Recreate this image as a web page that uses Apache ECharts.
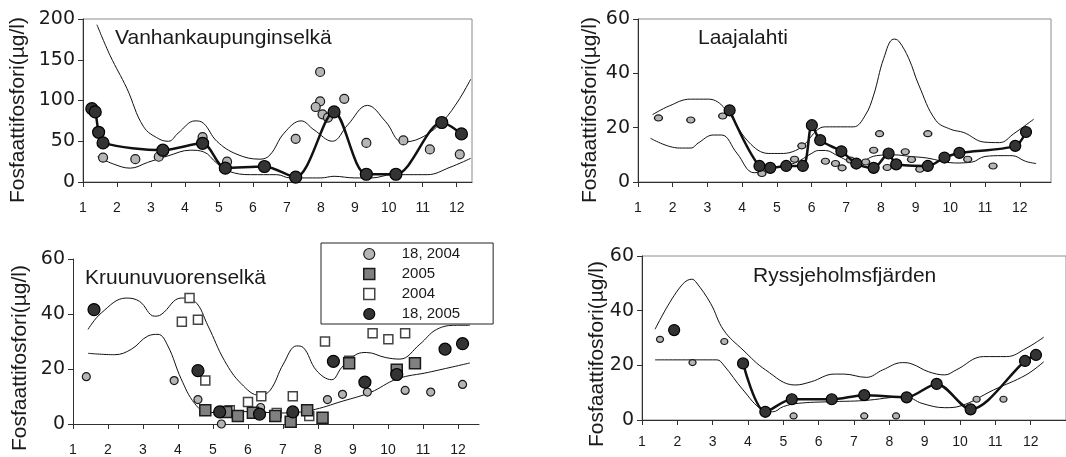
<!DOCTYPE html>
<html>
<head>
<meta charset="utf-8">
<script src="https://cdn.jsdelivr.net/npm/echarts@6/dist/echarts.min.js"></script>
<style>
html,body{margin:0;padding:0;background:#fff;}
#chart{width:1066px;height:457px;}
</style>
</head>
<body>
<div id="chart"></div>
<script>
// ---------- tick labels ----------
const monthTicks = [1,2,3,4,5,6,7,8,9,10,11,12];
const panelNames = ['Vanhankaupunginselkä','Laajalahti','Kruunuvuorenselkä','Ryssjeholmsfjärden'];
const yTitle = 'Fosfaattifosfori(µg/l)';
const legendNames = ['18, 2004','2005','2004','18, 2005'];

// ---------- Panel 1: Vanhankaupunginselkä ----------
const p1Dark2005 = [[1.26,90],[1.36,86],[1.46,61],[1.59,48],[3.35,39],[4.52,47.5],[5.19,17],[6.34,19],[7.26,6],[8.39,86],[9.34,9.5],[10.21,9.5],[11.56,73],[12.14,59]];
const p1Grey2004 = [[1.59,30],[2.54,28],[3.23,31],[4.52,55],[5.24,25],[7.26,53],[7.98,135],[7.98,99],[7.85,92],[8.05,83],[8.21,79],[8.69,102],[9.34,48],[10.43,51],[11.21,40],[12.09,34]];
const p1Upper = [[1.41,193],[1.8,155],[2.29,115],[2.78,68],[3.23,53],[3.52,50],[3.8,60],[4.3,75],[4.55,72],[4.94,50],[5.53,34],[6.21,28],[6.5,33],[6.92,60],[7.42,75],[7.8,64],[8.34,50],[8.79,70],[9.37,94],[9.91,74],[10.4,49],[10.94,54],[11.55,73],[12.02,98],[12.41,126]];
const p1Lower = [[1.43,31],[1.9,22],[2.39,17],[2.9,24],[3.5,32],[4.16,39],[4.55,37],[4.94,23],[5.3,13],[5.93,9],[6.7,9],[7.1,5],[8.0,5],[8.39,7],[9.0,5],[9.5,5],[10.1,9],[11.13,9],[11.8,18],[12.41,29]];

// ---------- Panel 2: Laajalahti ----------
const p2Dark2005 = [[3.64,26.4],[4.50,5.9],[4.81,5.2],[5.27,5.9],[5.75,5.9],[6.01,20.9],[6.25,15.4],[6.86,11.3],[7.29,6.8],[7.79,5.2],[8.22,10.5],[8.44,6.5],[9.35,5.9],[9.83,9.0],[10.26,10.7],[11.87,13.3],[12.18,18.4]];
const p2Grey2004 = [[1.59,23.6],[2.52,22.8],[3.44,24.3],[4.57,3.1],[5.51,8.4],[5.72,13.3],[6.40,7.6],[6.69,6.8],[6.88,5.2],[7.12,8.1],[7.56,7.4],[7.79,11.7],[7.96,17.8],[8.18,5.3],[8.70,11.1],[8.88,8.3],[9.12,4.7],[9.35,17.8],[10.50,8.4],[11.23,5.9]];
const p2Upper = [[1.42,24.8],[1.9,28],[2.51,30.5],[3.03,30.5],[3.51,27],[4.19,14.7],[4.77,10.5],[5.1,10.5],[5.44,11.1],[5.77,13.5],[6.16,19.1],[6.40,20.3],[6.83,20.3],[7.21,20.3],[7.55,24.6],[7.79,32],[8.08,45.5],[8.37,52.6],[8.51,51.9],[8.80,45.5],[9.09,35.7],[9.58,22.7],[10.01,19.4],[10.39,18.2],[10.97,14.7],[11.42,14.5],[11.83,17.8],[12.40,23.1]];
const p2Lower = [[1.36,16.1],[2.19,12.5],[2.53,12.5],[2.73,14.3],[3.17,17.3],[3.41,17.3],[3.85,10.6],[4.35,3.4],[4.93,5.2],[5.52,7.0],[6.01,10.6],[6.2,11.6],[6.4,11.6],[6.79,9.4],[7.28,7.0],[7.87,9.7],[8.36,10],[8.85,9.4],[9.34,8.8],[10.12,7.0],[10.61,7.3],[11.0,9.4],[11.49,9.7],[11.78,9.7],[12.17,7.6],[12.47,6.8]];

// ---------- Panel 3: Kruunuvuorenselkä ----------
const p3Dark2005 = [[1.60,41.6],[4.57,19.4],[5.19,4.4],[6.33,3.6],[7.28,4.4],[8.44,22.8],[9.34,15.2],[10.25,18.0],[11.63,27.2],[12.13,29.2]];
const p3Grey2004 = [[1.38,17.2],[3.89,15.8],[4.57,8.9],[5.24,0],[6.36,6.0],[8.27,8.9],[8.70,10.8],[9.41,11.6],[10.49,12.2],[11.22,11.6],[12.13,14.4]];
const p3Sq2005 = [[4.78,5.0],[5.38,4.4],[5.71,2.9],[6.14,4.1],[6.78,2.9],[7.22,0.8],[7.69,5.0],[8.13,2.3],[8.89,22.1],[10.25,19.7],[10.77,22.1]];
const p3Sq2004 = [[4.11,37.2],[4.33,45.8],[4.57,37.9],[4.78,15.8],[5.48,5.0],[6.0,8.0],[6.38,10.1],[6.82,4.0],[7.28,10.1],[7.75,2.9],[8.2,30.0],[8.89,23.0],[9.56,33.0],[10.01,30.8],[10.49,33.0]];
const p3Upper = [[1.43,34.4],[1.81,40.4],[2.52,45.8],[2.90,44.6],[3.33,39.2],[3.52,39.8],[4.09,45.8],[4.48,44.6],[4.86,35.6],[5.33,23.0],[5.81,14.6],[6.33,10.4],[6.63,12.2],[7.01,21.8],[7.39,28.4],[7.58,27.8],[7.96,19.4],[8.39,16.1],[8.68,20.6],[9.11,25.4],[9.39,26],[9.92,24.2],[10.34,23.6],[10.91,29],[11.39,34.4],[11.96,35.9],[12.34,35.9]];
const p3Lower = [[1.43,25.7],[2.19,25.2],[2.67,27.2],[3.14,32.0],[3.43,32.6],[3.71,28.4],[4.09,16.4],[4.48,7.4],[4.86,4.1],[5.3,4.5],[6.0,4.5],[7.0,4.0],[7.8,5.0],[8.7,8.3],[9.5,11.5],[10.26,16.4],[11.16,18.8],[12.34,22.2]];

// ---------- Panel 4: Ryssjeholmsfjärden ----------
const p4Dark2005 = [[1.91,32.9],[3.86,20.7],[4.49,3.0],[5.24,7.6],[6.37,7.6],[7.29,9.1],[8.49,8.3],[9.34,13.2],[10.30,3.9],[11.84,21.6],[12.15,23.8]];
const p4LineStart = 1;
const p4Grey2004 = [[1.51,29.5],[2.43,21.0],[3.33,28.7],[5.29,1.5],[7.29,1.5],[8.19,1.5],[10.47,7.6],[11.23,7.6]];
const p4Upper = [[1.37,33.2],[2.02,47.6],[2.41,51.5],[2.52,50.6],[2.94,42.7],[3.31,32.9],[3.86,25.6],[4.5,18.3],[5.33,12.8],[5.79,14.0],[6.44,16.8],[6.71,16.8],[7.35,15.6],[7.81,18.3],[8.37,21.0],[8.64,20.5],[9.10,17.7],[9.57,16.5],[9.89,18.3],[10.67,23.2],[11.32,23.2],[11.87,26.2],[12.37,30.3]];
const p4Lower = [[1.37,22.0],[3.12,22.0],[3.31,20.1],[3.86,11.0],[4.41,3.7],[4.7,3.0],[5.0,4.9],[5.42,6.1],[6.34,6.7],[7.26,7.1],[8.46,8.5],[8.92,6.1],[9.57,4.5],[10.03,5.2],[10.95,11.0],[11.87,16.5],[12.37,21.3]];

// ---------- styles ----------
const FONT = 'Liberation Sans, Arial, sans-serif';
const NUMFONT = 'DejaVu Sans, sans-serif';
const AXIS_COLOR = '#303030';
const TEXT_COLOR = '#1a1a1a';
const GREY_FILL = '#b5b5b5';
const DARK_FILL = '#333333';
const SQ_FILL = '#808080';

const chart = echarts.init(document.getElementById('chart'), null, {renderer:'canvas'});

const grids = [
  {left:83, top:19, width:389, height:163, show:true, borderColor:'#8c8c8c', borderWidth:1},
  {left:638, top:19, width:413, height:163, show:true, borderColor:'#8c8c8c', borderWidth:1},
  {left:73, top:259, width:406, height:167, show:false},
  {left:642, top:256, width:434, height:164, show:true, borderColor:'#8c8c8c', borderWidth:1}
];
const xMax = [12.45, 12.9, 12.6, 13];
const xMargin = [19, 19, 19, 15];
const yMax = [200, 60, 60, 60];
const yInterval = [50, 20, 20, 20];

const xAxes = grids.map((g,i)=>({
  type:'value', gridIndex:i, min:1, max:xMax[i], interval:1,
  axisLine:{show:true, onZero:false, lineStyle:{color:AXIS_COLOR, width:1}},
  axisTick:{show:true, length:5, customValues:monthTicks, lineStyle:{color:AXIS_COLOR}},
  axisLabel:{customValues:monthTicks, margin:xMargin[i], fontSize:14, fontFamily:FONT, color:TEXT_COLOR,
    formatter:v=>Number.isInteger(v)?String(v):''},
  splitLine:{show:false}
}));
const yAxes = grids.map((g,i)=>({
  type:'value', gridIndex:i, min:0, max:yMax[i], interval:yInterval[i],
  axisLine:{show:true, lineStyle:{color:AXIS_COLOR, width:1}},
  axisTick:{show:true, length:5, lineStyle:{color:AXIS_COLOR}},
  axisLabel:{margin:8, fontSize:19, fontFamily:NUMFONT, color:TEXT_COLOR},
  splitLine:{show:false}
}));

function envelope(i, data){
  return {type:'line', name:'envelope', xAxisIndex:i, yAxisIndex:i, data, smooth:0.4,
    symbol:'none', lineStyle:{color:'#111', width:1}, silent:true, z:2};
}
function grey(i, data, size){
  return {type:'scatter', name:legendNames[0], xAxisIndex:i, yAxisIndex:i, data, symbol:'circle',
    symbolSize:size, itemStyle:{color:GREY_FILL, borderColor:'#1a1a1a', borderWidth:1.2, opacity:1}, z:3};
}
function darkLine(i, data, size){
  return {type:'line', name:legendNames[3], xAxisIndex:i, yAxisIndex:i, data, smooth:0.3,
    symbol:'circle', symbolSize:size, showSymbol:true, showAllSymbol:true,
    lineStyle:{color:'#111', width:2.5}, itemStyle:{color:DARK_FILL, borderColor:'#000', borderWidth:1.2}, z:4};
}
function darkScatter(i, data, size){
  return {type:'scatter', name:legendNames[3], xAxisIndex:i, yAxisIndex:i, data, symbol:'circle',
    symbolSize:size, itemStyle:{color:DARK_FILL, borderColor:'#000', borderWidth:1.2, opacity:1}, z:5};
}

const series = [
  // panel 1
  envelope(0, p1Upper), envelope(0, p1Lower),
  grey(0, p1Grey2004, 9),
  darkLine(0, p1Dark2005, 12),
  // panel 2
  envelope(1, p2Upper), envelope(1, p2Lower),
  grey(1, p2Grey2004, [8,6]),
  darkLine(1, p2Dark2005, 11),
  // panel 3
  envelope(2, p3Upper), envelope(2, p3Lower),
  {type:'scatter', name:legendNames[2], xAxisIndex:2, yAxisIndex:2, data:p3Sq2004, symbol:'rect', symbolSize:9,
    itemStyle:{color:'#ffffff', borderColor:'#444', borderWidth:1.5, opacity:1}, z:3},
  grey(2, p3Grey2004, 8),
  {type:'scatter', name:legendNames[1], xAxisIndex:2, yAxisIndex:2, data:p3Sq2005, symbol:'rect', symbolSize:11,
    itemStyle:{color:SQ_FILL, borderColor:'#1a1a1a', borderWidth:1.5, opacity:1}, z:4},
  darkScatter(2, p3Dark2005, 12),
  // panel 4
  envelope(3, p4Upper), envelope(3, p4Lower),
  grey(3, p4Grey2004, [7,6]),
  darkLine(3, p4Dark2005.slice(p4LineStart), 11),
  darkScatter(3, p4Dark2005.slice(0, p4LineStart), 11)
];

const titlePos = [[115,38],[698,38],[85,278],[753,276]];
const yTitlePos = [[18,110],[590,110],[20,358],[597,354]];
const graphic = [];
panelNames.forEach((t,i)=>{
  graphic.push({type:'text', x:titlePos[i][0], y:titlePos[i][1], silent:true,
    style:{text:t, fontSize:21, fontFamily:FONT, fill:TEXT_COLOR, align:'left', verticalAlign:'middle'}});
  graphic.push({type:'text', x:yTitlePos[i][0], y:yTitlePos[i][1], rotation:Math.PI/2, silent:true,
    style:{text:yTitle, fontSize:21, fontFamily:FONT, fill:TEXT_COLOR, align:'center', verticalAlign:'middle'}});
});

const legendIcons = [
  {name:legendNames[0], icon:'circle', itemStyle:{color:GREY_FILL, borderColor:'#1a1a1a', borderWidth:1.2}},
  {name:legendNames[1], icon:'rect', itemStyle:{color:SQ_FILL, borderColor:'#1a1a1a', borderWidth:1.5}},
  {name:legendNames[2], icon:'rect', itemStyle:{color:'#ffffff', borderColor:'#444', borderWidth:1.5}},
  {name:legendNames[3], icon:'circle', itemStyle:{color:DARK_FILL, borderColor:'#000', borderWidth:1.2}}
];

chart.setOption({
  animation:false,
  backgroundColor:'#ffffff',
  grid:grids,
  xAxis:xAxes,
  yAxis:yAxes,
  series,
  graphic,
  legend:{
    orient:'vertical', left:321, top:243, padding:[1,33,0,42],
    itemWidth:11, itemHeight:11, itemGap:0, selectedMode:false,
    borderColor:'#222', borderWidth:1, backgroundColor:'#fff',
    textStyle:{fontSize:15, fontFamily:FONT, color:TEXT_COLOR, lineHeight:20, padding:[0,0,0,22]},
    data:legendIcons
  }
});
</script>
</body>
</html>
